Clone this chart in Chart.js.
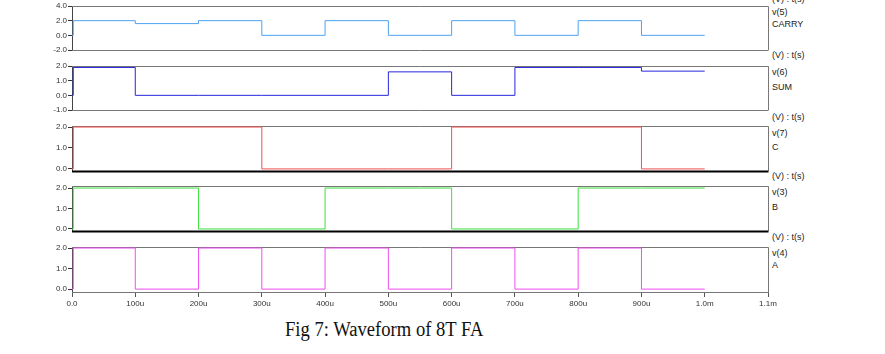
<!DOCTYPE html>
<html>
<head>
<meta charset="utf-8">
<script src="https://cdn.jsdelivr.net/npm/chart.js@4.4.0/dist/chart.umd.min.js"></script>
<style>
    body { margin: 0; background: #fff; width: 885px; height: 354px; overflow: hidden; position: relative; font-family: "Liberation Sans", Arial, sans-serif; }
    canvas { position: absolute; left: 0; }
    .lbl { position: absolute; left: 772px; font-size: 9px; line-height: 10px; color: #222; white-space: nowrap; }
    .cap { position: absolute; left: 285px; top: 319px; font-family: "Liberation Serif", "Times New Roman", serif; font-size: 20px; line-height: 20px; color: #111; white-space: nowrap; transform: scaleX(0.93); transform-origin: 0 0; }
</style>
</head>
<body>
<div class="lbl" style="top:-6px">(V) : t(s)</div>
<div class="lbl" style="top:7px">v(5)</div>
<div class="lbl" style="top:19px">CARRY</div>
<div class="lbl" style="top:50px">(V) : t(s)</div>
<div class="lbl" style="top:67px">v(6)</div>
<div class="lbl" style="top:82px">SUM</div>
<div class="lbl" style="top:112px">(V) : t(s)</div>
<div class="lbl" style="top:128px">v(7)</div>
<div class="lbl" style="top:142px">C</div>
<div class="lbl" style="top:171px">(V) : t(s)</div>
<div class="lbl" style="top:187px">v(3)</div>
<div class="lbl" style="top:202px">B</div>
<div class="lbl" style="top:232px">(V) : t(s)</div>
<div class="lbl" style="top:248px">v(4)</div>
<div class="lbl" style="top:260px">A</div>
<div class="cap">Fig 7: Waveform of 8T FA</div>

<script>
// switching instants in microseconds, each value holds until the next instant
const timeUs = [0, 2, 100, 200, 300, 400, 500, 600, 700, 800, 900, 1000];
const carryV = [0, 2.0, 1.6, 2.0, 0, 2.0, 0, 2.0, 0, 2.0, 0, 0];
const sumV   = [0, 1.9, 0, 0, 0, 0, 1.6, 0, 1.9, 1.9, 1.65, 1.65];
const cV     = [0, 2.0, 2.0, 2.0, 0, 0, 0, 2.0, 2.0, 2.0, 0, 0];
const bV     = [0, 2.0, 2.0, 0, 0, 2.0, 2.0, 0, 0, 2.0, 2.0, 2.0];
const aV     = [0, 2.0, 0, 2.0, 0, 2.0, 0, 2.0, 0, 2.0, 0, 0];

const xTickValues = [0, 100, 200, 300, 400, 500, 600, 700, 800, 900, 1000, 1100];
const xTickLabels = ["0.0", "100u", "200u", "300u", "400u", "500u", "600u", "700u", "800u", "900u", "1.0m", "1.1m"];

const panels = [
    { values: carryV, color: "#4da3f2", min: -2, max: 4, ticks: [-2, 0, 2, 4], top: 6, h: 44, bottom: "#777", bw: 1 },
    { values: sumV, color: "#2626dc", min: -1, max: 2, ticks: [-1, 0, 1, 2], top: 66, h: 44, bottom: "#777", bw: 1 },
    { values: cV, color: "#f25050", min: -0.1, max: 2.05, ticks: [0, 1, 2], top: 126, h: 45, bottom: "#000", bw: 2 },
    { values: bV, color: "#3ee03e", min: -0.1, max: 2.1, ticks: [0, 1, 2], top: 186, h: 45, bottom: "#000", bw: 2 },
    { values: aV, color: "#f04cf0", min: -0.14, max: 2.05, ticks: [0, 1, 2], top: 247, h: 45, bottom: "#777", bw: 1 }
];

const framePlugin = {
    id: "frame",
    beforeDatasetsDraw(chart, args, opts) {
        const a = chart.chartArea;
        const ctx = chart.ctx;
        ctx.save();
        ctx.lineWidth = 1;
        ctx.strokeStyle = "#777";
        ctx.beginPath();
        ctx.moveTo(a.left, a.top + 0.5);
        ctx.lineTo(a.right + 0.5, a.top + 0.5);
        ctx.lineTo(a.right + 0.5, a.bottom);
        ctx.stroke();
        ctx.lineWidth = opts.bw;
        ctx.strokeStyle = opts.bottom;
        ctx.beginPath();
        ctx.moveTo(a.left, a.bottom + 0.5);
        ctx.lineTo(a.right + 0.5, a.bottom + 0.5);
        ctx.stroke();
        ctx.restore();
    }
};

panels.forEach((p, idx) => {
    const isLast = idx === panels.length - 1;
    const padTop = 8;
    const xAxisH = 20;
    const cv = document.createElement("canvas");
    cv.width = 885;
    cv.height = padTop + p.h + (isLast ? xAxisH : 8);
    cv.style.top = (p.top - padTop) + "px";
    document.body.appendChild(cv);

    new Chart(cv, {
        type: "line",
        data: {
            datasets: [{
                data: timeUs.map((t, i) => ({ x: t, y: p.values[i] })),
                borderColor: p.color,
                borderWidth: 1,
                stepped: "before",
                pointRadius: 0,
                fill: false
            }]
        },
        options: {
            responsive: false,
            animation: false,
            layout: { padding: { left: 0, right: 117, top: padTop, bottom: isLast ? 0 : 8 } },
            plugins: {
                legend: { display: false },
                tooltip: { enabled: false },
                frame: { bottom: p.bottom, bw: p.bw }
            },
            scales: {
                x: {
                    type: "linear",
                    min: 0,
                    max: 1100,
                    display: isLast,
                    afterBuildTicks: s => { s.ticks = xTickValues.map(v => ({ value: v })); },
                    afterFit: s => { if (isLast) s.height = xAxisH; },
                    ticks: {
                        autoSkip: false,
                        maxRotation: 0,
                        padding: 2,
                        color: "#333",
                        font: { family: "Liberation Sans", size: 8 },
                        callback: (v, i) => xTickLabels[i]
                    },
                    grid: { drawOnChartArea: false, drawTicks: true, tickLength: 5, color: "#555" },
                    border: { color: "#777" }
                },
                y: {
                    min: p.min,
                    max: p.max,
                    afterBuildTicks: s => { s.ticks = p.ticks.map(v => ({ value: v })); },
                    afterFit: s => { s.width = 72; },
                    ticks: {
                        autoSkip: false,
                        padding: 1,
                        color: "#333",
                        font: { family: "Liberation Sans", size: 8 },
                        callback: v => v.toFixed(1)
                    },
                    grid: { drawOnChartArea: false, drawTicks: true, tickLength: 4, color: "#333" },
                    border: { color: "#444" }
                }
            }
        },
        plugins: [framePlugin]
    });
});
</script>
</body>
</html>
